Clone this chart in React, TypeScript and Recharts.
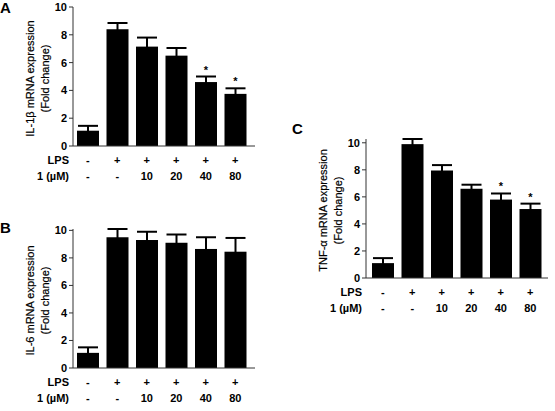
import React from 'react'
import { BarChart, Bar, XAxis, YAxis, ErrorBar } from 'recharts'

// treatment rows shown under each bar
const lps = ['-', '+', '+', '+', '+', '+']
const dose = ['-', '-', '10', '20', '40', '80']
const yTicks = [0, 2, 4, 6, 8, 10]

// IL-1β fold change (mean ± SEM)
const il1bMean = [1.1, 8.4, 7.15, 6.5, 4.6, 3.75]
const il1bSem = [0.35, 0.45, 0.65, 0.55, 0.4, 0.4]
const il1bSig = [false, false, false, false, true, true]

// IL-6 fold change
const il6Mean = [1.1, 9.5, 9.3, 9.1, 8.65, 8.45]
const il6Sem = [0.4, 0.6, 0.6, 0.6, 0.85, 1.0]
const il6Sig = [false, false, false, false, false, false]

// TNF-α fold change
const tnfMean = [1.1, 9.9, 7.95, 6.6, 5.8, 5.1]
const tnfSem = [0.37, 0.38, 0.4, 0.3, 0.45, 0.4]
const tnfSig = [false, false, false, false, true, true]

const font = '"Liberation Sans", Arial, sans-serif'

const toRows = (mean: number[], sem: number[], sig: boolean[]) =>
  mean.map((m, i) => ({ group: `g${i}`, mean: m, sem: sem[i], sig: sig[i] }))

// black bar with an asterisk above the error cap when significant
function SigBar(props: any) {
  const { x, y, width, height, payload } = props
  const perUnit = payload.mean ? height / payload.mean : 0
  const errTop = y - payload.sem * perUnit
  return (
    <g>
      <rect x={x} y={y} width={width} height={height} fill="#000" />
      {payload.sig && (
        <text x={x + width / 2} y={errTop - 3} textAnchor="middle" fontSize={11} fontWeight="bold" fontFamily={font} fill="#000">
          *
        </text>
      )}
    </g>
  )
}

function TreatmentTick(props: any) {
  const { x, y, index } = props
  return (
    <g fontFamily={font} fontSize={11} fontWeight="bold" fill="#000" textAnchor="middle">
      <text x={x} y={y + 18}>{lps[index]}</text>
      <text x={x} y={y + 34}>{dose[index]}</text>
    </g>
  )
}

function TreatmentNames(props: any) {
  const { viewBox } = props
  const rx = viewBox.x - 4
  return (
    <g fontFamily={font} fontSize={11} fontWeight="bold" fill="#000" textAnchor="end">
      <text x={rx} y={viewBox.y + 18}>LPS</text>
      <text x={rx} y={viewBox.y + 34}>1 (µM)</text>
    </g>
  )
}

// two-line rotated y-axis title
function AxisTitle(props: any) {
  const { viewBox, lines } = props
  const right = viewBox.x + viewBox.width
  const cy = viewBox.y + viewBox.height / 2 + 2
  return (
    <g fontFamily={font} fontSize={11} fill="#000" stroke="#000" strokeWidth={0.2} textAnchor="middle">
      {lines.map((t: string, i: number) => {
        const cx = right - 43 + i * 15
        return (
          <text key={i} x={cx} y={cy} dominantBaseline="central" transform={`rotate(-90, ${cx}, ${cy})`}>
            {t}
          </text>
        )
      })}
    </g>
  )
}

type PanelProps = {
  letter: string
  title: string
  rows: ReturnType<typeof toRows>
  left: number
  top: number
  width: number
  marginRight: number
  padLeft: number
  padRight: number
  letterPos: { left: number; top: number }
}

function Panel(p: PanelProps) {
  return (
    <>
      <div
        style={{
          position: 'absolute',
          left: p.letterPos.left,
          top: p.letterPos.top,
          fontFamily: font,
          fontWeight: 'bold',
          fontSize: 15,
          lineHeight: '15px',
        }}
      >
        {p.letter}
      </div>
      <div style={{ position: 'absolute', left: p.left, top: p.top }}>
        <BarChart
          width={p.width}
          height={190}
          data={p.rows}
          margin={{ top: 7, right: p.marginRight, left: 0, bottom: 0 }}
          barSize={22}
        >
          <XAxis
            dataKey="group"
            height={44}
            tickLine={false}
            tickSize={0}
            tickMargin={0}
            axisLine={{ stroke: '#333' }}
            padding={{ left: p.padLeft, right: p.padRight }}
            tick={<TreatmentTick />}
            interval={0}
            label={(lp: any) => <TreatmentNames {...lp} />}
          />
          <YAxis
            width={73}
            domain={[0, 10]}
            ticks={yTicks}
            tickSize={4}
            tickMargin={2}
            axisLine={{ stroke: '#333' }}
            tickLine={{ stroke: '#333' }}
            tick={{ fill: '#000', fontSize: 11, fontWeight: 'bold', fontFamily: font }}
            label={(lp: any) => <AxisTitle {...lp} lines={[p.title, '(Fold change)']} />}
          />
          <Bar dataKey="mean" shape={<SigBar />} isAnimationActive={false}>
            <ErrorBar dataKey="sem" width={10} stroke="#000" strokeWidth={2} direction="y" isAnimationActive={false} />
          </Bar>
        </BarChart>
      </div>
    </>
  )
}

export default function App() {
  return (
    <div style={{ position: 'absolute', left: 0, top: 0, width: 555, height: 411, overflow: 'hidden', background: '#fff' }}>
      <Panel
        letter="A"
        title="IL-1β mRNA expression"
        rows={toRows(il1bMean, il1bSem, il1bSig)}
        left={0}
        top={0}
        width={270}
        marginRight={15}
        padLeft={0}
        padRight={5}
        letterPos={{ left: 0, top: 0 }}
      />
      <Panel
        letter="B"
        title="IL-6 mRNA expression"
        rows={toRows(il6Mean, il6Sem, il6Sig)}
        left={0}
        top={222}
        width={270}
        marginRight={15}
        padLeft={0}
        padRight={5}
        letterPos={{ left: 0, top: 220 }}
      />
      <Panel
        letter="C"
        title="TNF-α mRNA expression"
        rows={toRows(tnfMean, tnfSem, tnfSig)}
        left={293}
        top={132}
        width={262}
        marginRight={7}
        padLeft={2}
        padRight={3}
        letterPos={{ left: 292, top: 121 }}
      />
    </div>
  )
}
